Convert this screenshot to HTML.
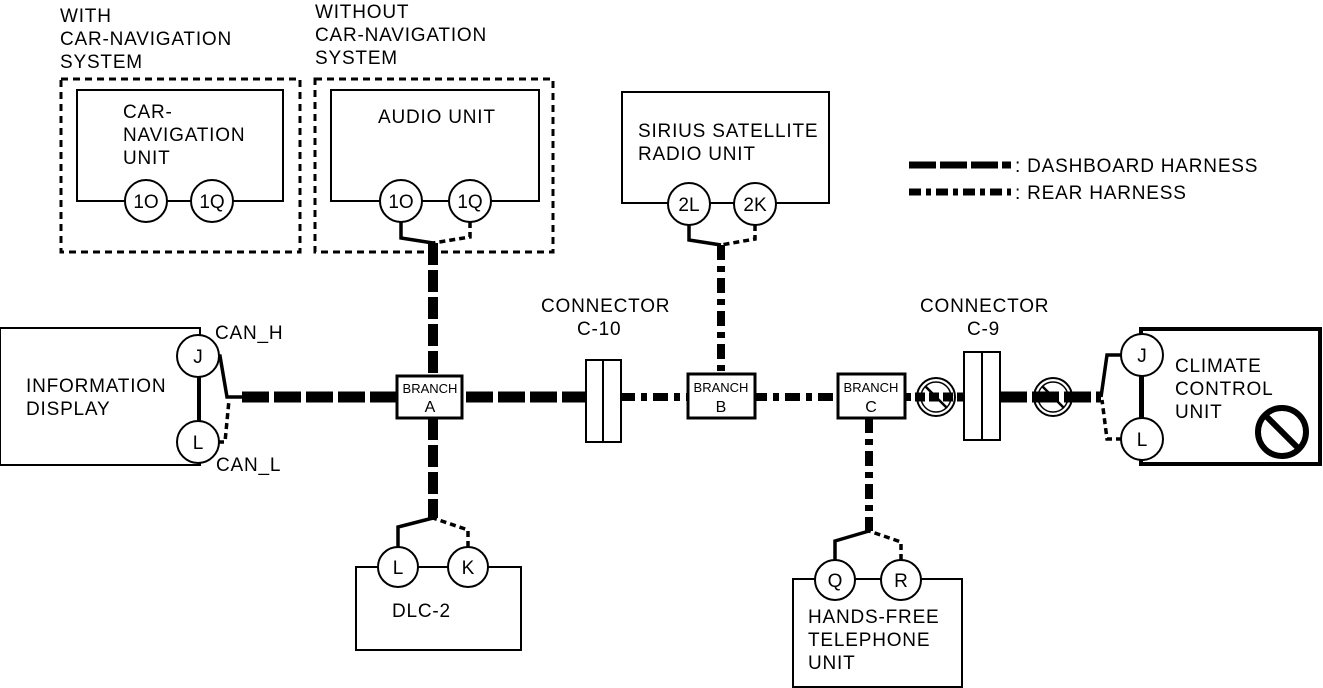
<!DOCTYPE html>
<html><head><meta charset="utf-8"><style>
html,body{margin:0;padding:0;background:#fff;}
svg{display:block;}
text{font-family:"Liberation Sans",Arial,sans-serif;fill:#000;}
.t{letter-spacing:0.8px;}
</style></head><body>
<svg width="1323" height="688" viewBox="0 0 1323 688" xmlns="http://www.w3.org/2000/svg">
<g font-size="19" class="t">
<text x="60" y="22">WITH</text>
<text x="60" y="45">CAR-NAVIGATION</text>
<text x="60" y="68">SYSTEM</text>
<text x="315" y="18">WITHOUT</text>
<text x="315" y="41">CAR-NAVIGATION</text>
<text x="315" y="64">SYSTEM</text>
</g>
<g fill="none" stroke="#000" stroke-width="3" stroke-dasharray="7,5">
<rect x="61" y="79" width="239" height="173"/>
<rect x="315" y="79" width="238" height="173"/>
</g>
<g fill="none" stroke="#000" stroke-width="2">
<rect x="77" y="90" width="206" height="111"/>
<rect x="331" y="90" width="208" height="111"/>
<rect x="622" y="92" width="207" height="111"/>
<rect x="0" y="328" width="200" height="137"/>
<rect x="356" y="567" width="165" height="83"/>
<rect x="793" y="579" width="169" height="108"/>
</g>
<rect x="1141" y="329" width="179" height="135" fill="none" stroke="#000" stroke-width="4"/>
<g font-size="19" class="t">
<text x="123" y="118">CAR-</text>
<text x="123" y="141">NAVIGATION</text>
<text x="123" y="164">UNIT</text>
<text x="378" y="123">AUDIO UNIT</text>
<text x="638" y="137">SIRIUS SATELLITE</text>
<text x="638" y="160">RADIO UNIT</text>
<text x="26" y="392">INFORMATION</text>
<text x="26" y="415">DISPLAY</text>
<text x="215" y="339">CAN_H</text>
<text x="216" y="471">CAN_L</text>
<text x="541" y="312">CONNECTOR</text>
<text x="577" y="335">C-10</text>
<text x="920" y="312">CONNECTOR</text>
<text x="967" y="335">C-9</text>
<text x="1175" y="372">CLIMATE</text>
<text x="1175" y="395">CONTROL</text>
<text x="1175" y="418">UNIT</text>
<text x="392" y="617">DLC-2</text>
<text x="808" y="623">HANDS-FREE</text>
<text x="808" y="646">TELEPHONE</text>
<text x="808" y="669">UNIT</text>
<text x="1015" y="172">: DASHBOARD HARNESS</text>
<text x="1015" y="199">: REAR HARNESS</text>
</g>
<line x1="909" y1="165" x2="1011" y2="165" stroke="#000" stroke-width="7" stroke-dasharray="27,4"/>
<line x1="909" y1="192" x2="1011" y2="192" stroke="#000" stroke-width="7" stroke-dasharray="12,5,5,5"/>
<line x1="242" y1="397" x2="585" y2="397" stroke="#000" stroke-width="11" stroke-dasharray="27,5"/>
<line x1="620" y1="397" x2="915" y2="397" stroke="#000" stroke-width="8" stroke-dasharray="15,6,6,6"/>
<line x1="915" y1="397" x2="963" y2="397" stroke="#000" stroke-width="9" stroke-dasharray="10,4"/>
<line x1="1000" y1="397" x2="1101" y2="397" stroke="#000" stroke-width="11" stroke-dasharray="27,5"/>
<line x1="433" y1="243" x2="433" y2="375" stroke="#000" stroke-width="10" stroke-dasharray="22,5"/>
<line x1="433" y1="418" x2="433" y2="518" stroke="#000" stroke-width="10" stroke-dasharray="22,5"/>
<line x1="721" y1="245" x2="721" y2="373" stroke="#000" stroke-width="8" stroke-dasharray="15,6,6,6"/>
<line x1="869" y1="418" x2="869" y2="531" stroke="#000" stroke-width="8" stroke-dasharray="15,6,6,6"/>
<g fill="none" stroke="#000" stroke-width="3.5">
<polyline points="198,356 220,356 227,397 242,397"/>
<polyline points="401,222 401,238 433,243"/>
<polyline points="689,225 689,240 721,245"/>
<polyline points="398,547 398,527 433,518"/>
<polyline points="835,560 835,541 869,531"/>
<polyline points="1142,355 1107,355 1101,397"/>
<line x1="198" y1="377" x2="198" y2="421" stroke-width="2"/>
<line x1="1142" y1="376" x2="1142" y2="418" stroke-width="4"/>
</g>
<g fill="none" stroke="#000" stroke-width="3.5" stroke-dasharray="6,4">
<polyline points="198,442 225,442 229,400"/>
<polyline points="470,222 470,237 433,243"/>
<polyline points="755,225 755,239 721,245"/>
<polyline points="468,547 468,530 433,518"/>
<polyline points="901,560 901,542 869,531"/>
<polyline points="1142,439 1107,439 1102,400"/>
</g>
<g fill="#fff" stroke="#000" stroke-width="2">
<circle cx="146" cy="201" r="21"/><circle cx="212" cy="201" r="21"/>
<circle cx="401" cy="201" r="21"/><circle cx="470" cy="201" r="21"/>
<circle cx="689" cy="204" r="21"/><circle cx="755" cy="204" r="21"/>
<circle cx="198" cy="356" r="21"/><circle cx="198" cy="442" r="21"/>
<circle cx="398" cy="567" r="20"/><circle cx="468" cy="567" r="20"/>
<circle cx="835" cy="580" r="20"/><circle cx="901" cy="580" r="20"/>
<circle cx="1142" cy="355" r="21"/><circle cx="1142" cy="439" r="21"/>
</g>
<g font-size="19" text-anchor="middle">
<text x="146" y="208">1O</text><text x="212" y="208">1Q</text>
<text x="401" y="208">1O</text><text x="470" y="208">1Q</text>
<text x="689" y="211">2L</text><text x="755" y="211">2K</text>
<text x="198" y="363">J</text><text x="198" y="449">L</text>
<text x="398" y="574">L</text><text x="468" y="574">K</text>
<text x="835" y="587">Q</text><text x="901" y="587">R</text>
<text x="1142" y="362">J</text><text x="1142" y="446">L</text>
</g>
<g fill="#fff" stroke="#000" stroke-width="3">
<rect x="397" y="376" width="65" height="42"/>
<rect x="688" y="374" width="67" height="44"/>
<rect x="838" y="374" width="67" height="44"/>
</g>
<g font-size="13" text-anchor="middle">
<text x="430" y="393">BRANCH</text><text x="430" y="412" font-size="16">A</text>
<text x="721" y="392">BRANCH</text><text x="721" y="412" font-size="16">B</text>
<text x="871" y="392">BRANCH</text><text x="871" y="412" font-size="16">C</text>
</g>
<g fill="#fff" stroke="#000" stroke-width="2">
<rect x="586" y="360" width="35" height="82"/>
<line x1="603" y1="360" x2="603" y2="442"/>
<rect x="964" y="352" width="36" height="88"/>
<line x1="982" y1="352" x2="982" y2="440"/>
</g>
<g fill="none" stroke="#000">
<circle cx="936" cy="397" r="19" stroke-width="2"/><circle cx="936" cy="397" r="15" stroke-width="1.5"/>
<line x1="925" y1="386" x2="947" y2="408" stroke-width="2.5"/>
<circle cx="1053" cy="397" r="19" stroke-width="2"/><circle cx="1053" cy="397" r="15" stroke-width="1.5"/>
<line x1="1042" y1="386" x2="1064" y2="408" stroke-width="2.5"/>
<circle cx="1282" cy="432" r="24" stroke-width="6"/>
<line x1="1266" y1="416" x2="1298" y2="448" stroke-width="6"/>
</g>
</svg>
</body></html>
